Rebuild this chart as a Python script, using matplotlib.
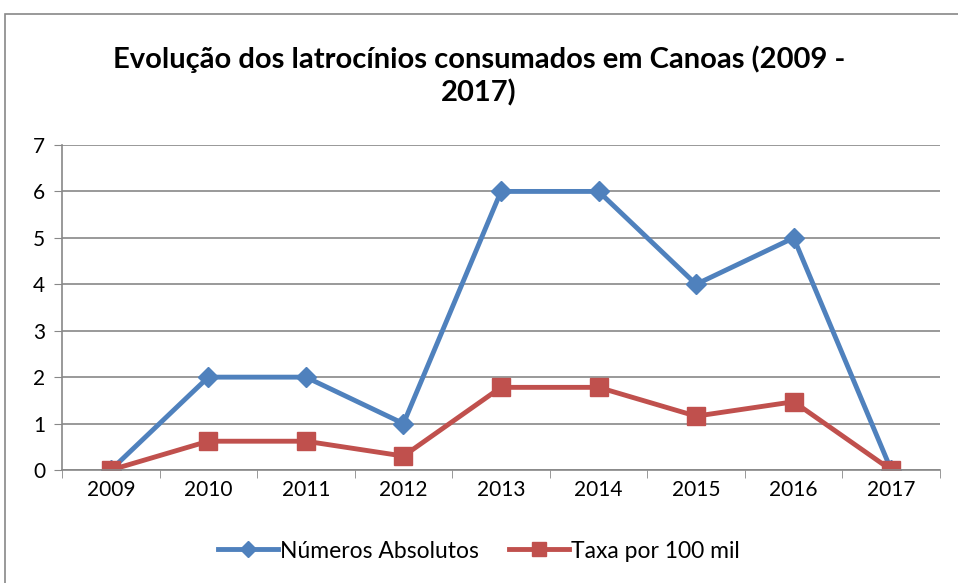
import matplotlib.pyplot as plt
from matplotlib.patches import Rectangle

anos = ['2009', '2010', '2011', '2012', '2013', '2014', '2015', '2016', '2017']
absolutos = [0, 2, 2, 1, 6, 6, 4, 5, 0]
taxa = [0, 0.62, 0.62, 0.30, 1.78, 1.78, 1.16, 1.47, 0]

plt.rcParams['font.family'] = ['Lato', 'DejaVu Sans']

fig = plt.figure(figsize=(9.58, 5.83), dpi=100)
ax = fig.add_axes([62/958, 1 - 470/583, (940-62)/958, (470-145)/583])

# chart border
fig.patches.append(Rectangle((5/958, -0.1), 1.2, 1.1 - 14/583, transform=fig.transFigure,
                             fill=False, edgecolor='#888888', linewidth=1.2))

x = range(len(anos))
ax.plot(x, absolutos, color='#4F81BD', linewidth=3.5, marker='D', markersize=10,
        label='Números Absolutos')
ax.plot(x, taxa, color='#C0504D', linewidth=3.5, marker='s', markersize=13,
        label='Taxa por 100 mil')

ax.set_xlim(-0.5, len(anos) - 0.5)
ax.set_ylim(0, 7)
ax.set_yticks(range(8))
ax.set_xticks(list(x))
ax.set_xticklabels(anos)
ax.set_xticks([i + 0.5 for i in range(-1, len(anos))], minor=True)
ax.tick_params(axis='x', which='major', length=0, pad=7, labelsize=15)
ax.tick_params(axis='x', which='minor', length=6, color='#888888')
ax.tick_params(axis='y', length=6, color='#888888', labelsize=15, pad=6)
ax.grid(axis='y', color='#888888', linewidth=1.2)
ax.set_axisbelow(True)
for s in ['top', 'right']:
    ax.spines[s].set_visible(False)
for s in ['left', 'bottom']:
    ax.spines[s].set_color('#888888')
    ax.spines[s].set_linewidth(1.2)

fig.text(0.5, 1 - 76/583, 'Evolução dos latrocínios consumados em Canoas (2009 -\n2017)',
         ha='center', va='center', fontsize=21, fontweight='bold', linespacing=1.3)

leg = fig.legend(loc='center', bbox_to_anchor=(0.5, 1 - 551/583), ncol=2, frameon=False,
                 fontsize=16.5, handlelength=2.6, columnspacing=1.3, handletextpad=0.1,
                 markerscale=0.8)

fig.savefig('out.png', dpi=100)
